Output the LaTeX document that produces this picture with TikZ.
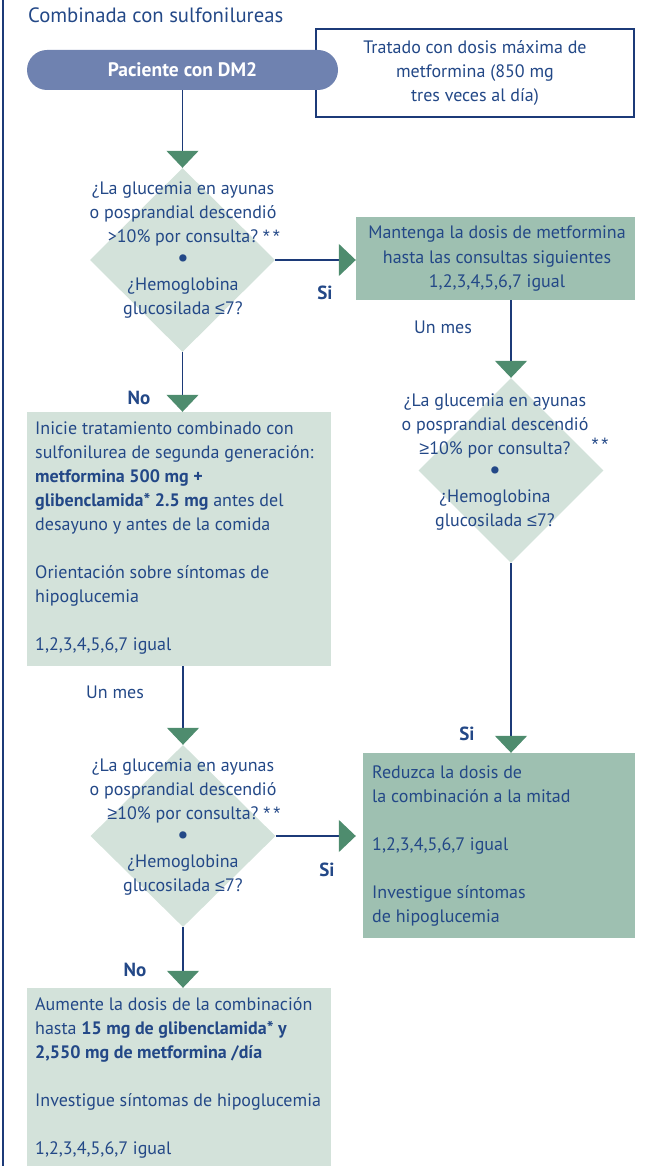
\documentclass[tikz,border=0pt]{standalone}
\usepackage{fontspec}
\setmainfont{PT Sans}
\newfontfamily\symf{Liberation Sans}
\usetikzlibrary{arrows.meta,shapes.geometric}
\definecolor{tblue}{RGB}{35,72,135}
\definecolor{lblue}{RGB}{28,58,120}
\definecolor{pillc}{RGB}{111,130,176}
\definecolor{lgreen}{RGB}{211,226,218}
\definecolor{dgreen}{RGB}{158,192,177}
\definecolor{agreen}{RGB}{78,140,110}
\newcommand{\bigdot}{{\fontsize{26}{24}\selectfont\textbullet}}
\newcommand{\twoast}{{\symf *\,*}}
\newcommand{\myle}{{\symf ≤}}
\newcommand{\myge}{{\symf ≥}}
\begin{document}
\begin{tikzpicture}[x=1pt,y=-1pt,
  every node/.style={text=tblue},
  txt/.style={font=\fontsize{18}{24}\selectfont, inner sep=0pt},
  conn/.style={draw=lblue, line width=1.3pt, -{Triangle[width=32pt,length=17pt,color=agreen]}},
  lbox/.style={fill=lgreen, inner sep=0pt},
  dbox/.style={fill=dgreen, inner sep=0pt},
  dia/.style={diamond, fill=lgreen, inner sep=0pt, minimum width=185pt, minimum height=184pt},
  lab/.style={font=\fontsize{19}{20}\selectfont\bfseries, inner sep=0pt}]
\useasboundingbox (0,0) rectangle (667,1166);
\draw[lblue, line width=1.2pt] (3,0) coordinate (lt) -- (3,1166) coordinate (lb);
\node[anchor=base west, inner sep=0pt, font=\fontsize{20.7}{22}\selectfont] (title) at (28,23) {Combinada con sulfonilureas};
% boxes
\node[draw=lblue, line width=1.2pt, fill=white, minimum width=318pt, minimum height=88pt] (b0) at (475,73) {};
\node[fill=pillc, rounded corners=20pt, minimum width=311pt, minimum height=40pt, text=white, font=\fontsize{19.5}{20}\selectfont\bfseries] (pill) at (182.5,70) {Paciente con DM2};
\node[dia, minimum height=184pt] (d1) at (182.5,260) {};
\node[dbox, minimum width=279pt, minimum height=83pt] (b2) at (495.5,258.5) {};
\node[dia, minimum height=185pt] (d2) at (511,470.5) {};
\node[lbox, minimum width=304pt, minimum height=254pt] (b3) at (179,539) {};
\node[dia, minimum height=182pt] (d3) at (183,836) {};
\node[dbox, minimum width=272pt, minimum height=185pt] (b4) at (499,845.5) {};
\node[lbox, minimum width=304pt, minimum height=178pt] (b5) at (179,1077) {};
% connectors
\draw[conn] (pill.south) -- (d1.north);
\draw[conn] (d1.east) -- (d1.east -| b2.west);
\draw[conn] (d1.south) -- (d1.south |- b3.north);
\draw[conn] (b2.south -| d2.north) -- (d2.north);
\draw[conn] (d2.south) -- (d2.south |- b4.north);
\draw[conn] (b3.south -| d3.north) -- (d3.north);
\draw[conn, shorten >=7pt] (d3.east) -- (d3.east -| b4.west);
\draw[conn] (d3.south) -- (d3.south |- b5.north);
% texts (base anchor = last line baseline)
\node[txt, align=center, anchor=base] (t0) at (475,102) {Tratado con dosis máxima de\\metformina (850 mg\\tres veces al día)};
\node[txt, align=center, anchor=base] (q1) at (183,314) {¿La glucemia en ayunas\\o posprandial descendió\\>10\% por consulta?\rlap{\ \twoast}\\\bigdot\\¿Hemoglobina\\glucosilada \myle7?};
\node[txt, align=center, anchor=base] (t2) at (497,287) {Mantenga la dosis de metformina\\hasta las consultas siguientes\\1,2,3,4,5,6,7 igual};
\node[txt, align=center, anchor=base] (q2) at (495,526) {¿La glucemia en ayunas\\o posprandial descendió\\\myge10\% por consulta?\\\bigdot\\¿Hemoglobina\\glucosilada \myle7?};
\node[txt] (ast2) at (600,444) {\twoast};
\node[txt, align=left, anchor=base west] (t3) at (35,650) {Inicie tratamiento combinado con\\sulfonilurea de segunda generación:\\\textbf{metformina 500 mg +}\\\textbf{glibenclamida* 2.5 mg} antes del\\desayuno y antes de la comida\\[24pt]Orientación sobre síntomas de\\hipoglucemia\\[24pt]1,2,3,4,5,6,7 igual};
\node[txt, align=center, anchor=base] (q3) at (183,891) {¿La glucemia en ayunas\\o posprandial descendió\\\myge10\% por consulta?\rlap{\ \twoast}\\\bigdot\\¿Hemoglobina\\glucosilada \myle7?};
\node[txt, align=left, anchor=base west] (t4) at (372,922) {Reduzca la dosis de\\la combinación a la mitad\\[24pt]1,2,3,4,5,6,7 igual\\[24pt]Investigue síntomas\\de hipoglucemia};
\node[txt, align=left, anchor=base west] (t5) at (35,1154) {Aumente la dosis de la combinación\\hasta \textbf{15 mg de glibenclamida* y}\\\textbf{2,550 mg de metformina /día}\\[24pt]Investigue síntomas de hipoglucemia\\[24pt]1,2,3,4,5,6,7 igual};
% labels
\node[txt] (m1) at (443,327) {Un mes};
\node[txt] (m2) at (115,692) {Un mes};
\node[lab] (si1) at (325,293) {Si};
\node[lab] (si2) at (467,734) {Si};
\node[lab] (si3) at (327,870) {Si};
\node[lab] (no1) at (139,398) {No};
\node[lab] (no2) at (135,970) {No};
\end{tikzpicture}
\end{document}
